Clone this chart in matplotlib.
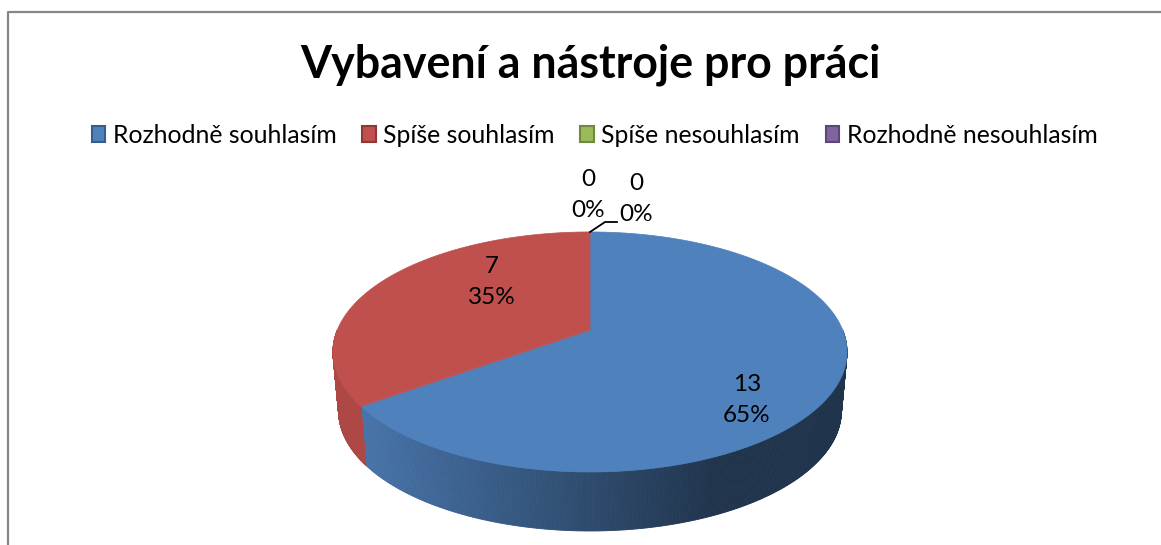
# 3D looking pie, drawn by hand since matplotlib has no perspective pie

import numpy as np
import matplotlib.pyplot as plt
from matplotlib.patches import Patch

plt.rcParams['font.family'] = ['Lato', 'DejaVu Sans']

title = 'Vybavení a nástroje pro práci'
categories = ['Rozhodně souhlasím', 'Spíše souhlasím', 'Spíše nesouhlasím', 'Rozhodně nesouhlasím']
values = [13, 7, 0, 0]
colors = ['#4F81BD', '#C0504D', '#9BBB59', '#8064A2']
edges = ['#385D8A', '#8C3836', '#71893F', '#5C4776']

W, H = 1161, 545
cx, cy = 590, 330  # where the pie centre lands on screen
rad, fore, tilt = 252.7, 116, 0.183
depth = 59
shrink = 0.978  # bottom rim is a bit narrower than the top one


def project(t):
    # t clockwise from 12 o'clock, circle seen in perspective
    u, v = np.sin(t), np.cos(t)
    s = 1 + tilt * v
    return cx + rad * u / s, cy - fore * v / s


def side_color(name, x):
    # side wall darkens towards the right
    c = np.array(plt.matplotlib.colors.to_rgb(name))
    f = np.interp(x, [360, 720, 850], [0.90, 0.40, 0.40])
    return c * f


fig = plt.figure(figsize=(W / 100, H / 100), dpi=100)
ax = fig.add_axes([0, 0, 1, 1])
ax.set_xlim(0, W)
ax.set_ylim(H, 0)
ax.axis('off')

# chart frame, cut off on the right and at the bottom
ax.plot([7.8, 7.8, W], [H, 11.8, 11.8], color='#868686', lw=1.6)

total = sum(values)
angles = np.concatenate([[0], np.cumsum(values) / total * 2 * np.pi])

# side wall first, as thin strips
for i in range(2):
    a0, a1 = max(angles[i], np.pi / 2), min(angles[i + 1], 3 * np.pi / 2)
    ts = np.linspace(a0, a1, 300)
    xs, ys = project(ts)
    xb = cx + (xs - cx) * shrink
    for j in range(len(ts) - 1):
        ax.fill([xs[j], xs[j + 1], xb[j + 1], xb[j]],
                [ys[j], ys[j + 1], ys[j + 1] + depth, ys[j] + depth],
                color=side_color(colors[i], xs[j]), lw=0.6)

# top face
for i in range(2):
    ts = np.linspace(angles[i], angles[i + 1], 300)
    xs, ys = project(ts)
    ax.fill(np.r_[cx, xs], np.r_[cy, ys], color=colors[i], lw=0.5)

# labels
ax.plot([590, 605, 617], [232, 222, 222], color='black', lw=1.3)
label_pos = [(747, 400), (492, 282), (588, 195), (636, 199)]
for v, (lx, ly) in zip(values, label_pos):
    ax.text(lx, ly, '%d\n%d%%' % (v, round(v / total * 100)), ha='center', va='center',
            fontsize=17.5, linespacing=1.55, color='black')

ax.text(590, 65, title, ha='center', va='center', fontsize=32.2, fontweight='bold', color='black')

handles = [Patch(facecolor=c, edgecolor=e, lw=1.5) for c, e in zip(colors, edges)]
ax.legend(handles, categories, loc='center', bbox_to_anchor=(594.5 / W, 1 - 135 / H), ncol=4,
          frameon=False, fontsize=17.8, handlelength=0.55, handleheight=0.6, handletextpad=0.3,
          columnspacing=1.04, borderpad=0)

fig.savefig('out.png', dpi=100)
